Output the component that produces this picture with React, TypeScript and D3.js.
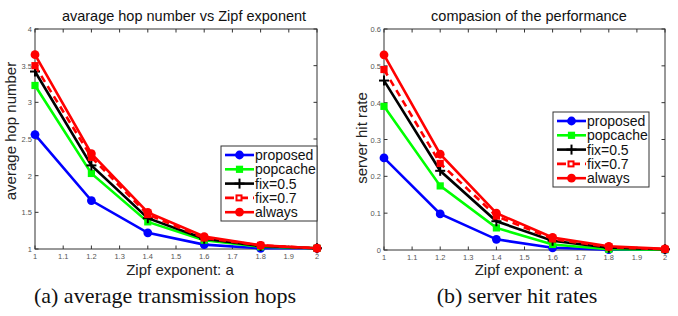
import * as d3 from 'd3';

const xVals = [1, 1.2, 1.4, 1.6, 1.8, 2];
const xTicks = [1, 1.1, 1.2, 1.3, 1.4, 1.5, 1.6, 1.7, 1.8, 1.9, 2];

const seriesNames = ['proposed', 'popcache', 'fix=0.5', 'fix=0.7', 'always'];

// average hop number
const hopProposed = [2.56, 1.66, 1.22, 1.06, 1.01, 1.01];
const hopPopcache = [3.23, 2.03, 1.37, 1.12, 1.03, 1.01];
const hopFix05 = [3.42, 2.14, 1.42, 1.14, 1.04, 1.01];
const hopFix07 = [3.5, 2.25, 1.47, 1.15, 1.05, 1.01];
const hopAlways = [3.65, 2.3, 1.5, 1.17, 1.05, 1.01];
const hopTicks = [1, 1.5, 2, 2.5, 3, 3.5, 4];

// server hit rate
const hitProposed = [0.25, 0.098, 0.029, 0.006, 0.001, 0.001];
const hitPopcache = [0.39, 0.174, 0.06, 0.015, 0.002, 0.001];
const hitFix05 = [0.46, 0.215, 0.078, 0.025, 0.006, 0.002];
const hitFix07 = [0.49, 0.235, 0.092, 0.03, 0.008, 0.002];
const hitAlways = [0.53, 0.26, 0.1, 0.034, 0.01, 0.003];
const hitTicks = [0, 0.1, 0.2, 0.3, 0.4, 0.5, 0.6];

const styles = [
  { color: '#0000ff', marker: 'circle', dash: '' },
  { color: '#00ff00', marker: 'square', dash: '' },
  { color: '#000000', marker: 'plus', dash: '' },
  { color: '#ff0000', marker: 'square', dash: '7,5' },
  { color: '#ff0000', marker: 'circle', dash: '' },
];

const SANS = 'Liberation Sans, Arial, sans-serif';

function Marker({ x, y, kind, color, size = 1 }: { x: number; y: number; kind: string; color: string; size?: number }) {
  if (kind === 'circle') return <circle cx={x} cy={y} r={4.4 * size} fill={color} />;
  if (kind === 'square') return <rect x={x - 3.6 * size} y={y - 3.6 * size} width={7.2 * size} height={7.2 * size} fill={color} />;
  return (
    <g stroke={color} strokeWidth={2}>
      <line x1={x - 5} x2={x + 5} y1={y} y2={y} />
      <line x1={x} x2={x} y1={y - 5} y2={y + 5} />
    </g>
  );
}

type PanelProps = {
  x0: number; x1: number; yTop: number; yBot: number;
  domain: [number, number]; yTicks: number[]; series: number[][];
  title: string; titleX: number; yLabel: string; yLabelX: number; yLabelY: number;
  legend: { x: number; y: number; w: number; h: number };
};

function Panel(p: PanelProps) {
  const xs = d3.scaleLinear([1, 2], [p.x0, p.x1]);
  const ys = d3.scaleLinear(p.domain, [p.yBot, p.yTop]);
  const line = d3.line<number>().x((_, i) => xs(xVals[i])).y(d => ys(d));
  const fmt = (v: number) => String(+v.toFixed(2));
  const tl = 3.5;
  const rowH = 14.3;
  return (
    <g fontFamily={SANS}>
      <text x={p.titleX} y={21} textAnchor="middle" fontSize={14.5} fill="#111">{p.title}</text>
      <text transform={`translate(${p.yLabelX},${p.yLabelY}) rotate(-90)`} textAnchor="middle" fontSize={15} fill="#222">{p.yLabel}</text>
      <text x={(p.x0 + p.x1) / 2 + 4} y={275} textAnchor="middle" fontSize={15} fill="#222">Zipf exponent: a</text>
      {xTicks.map(t => (
        <g key={'x' + t}>
          <line x1={xs(t)} x2={xs(t)} y1={p.yBot} y2={p.yBot - tl} stroke="#333" />
          <line x1={xs(t)} x2={xs(t)} y1={p.yTop} y2={p.yTop + tl} stroke="#333" />
          <text x={xs(t)} y={p.yBot + 9.5} textAnchor="middle" fontSize={7.5} fill="#555">{fmt(t)}</text>
        </g>
      ))}
      {p.yTicks.map(t => (
        <g key={'y' + t}>
          <line x1={p.x0} x2={p.x0 + tl} y1={ys(t)} y2={ys(t)} stroke="#333" />
          <line x1={p.x1} x2={p.x1 - tl} y1={ys(t)} y2={ys(t)} stroke="#333" />
          <text x={p.x0 - 3} y={ys(t) + 3} textAnchor="end" fontSize={7.5} fill="#555">{fmt(t)}</text>
        </g>
      ))}
      <rect x={p.x0} y={p.yTop} width={p.x1 - p.x0} height={p.yBot - p.yTop} fill="none" stroke="#333" strokeWidth={1} />
      {p.series.map((s, k) => (
        <g key={'s' + k}>
          <path d={line(s) ?? ''} fill="none" stroke={styles[k].color} strokeWidth={2.6} strokeDasharray={styles[k].dash} />
          {s.map((v, i) => (
            <Marker key={i} x={xs(xVals[i])} y={ys(v)} kind={styles[k].marker} color={styles[k].color} />
          ))}
        </g>
      ))}
      <rect x={p.legend.x} y={p.legend.y} width={p.legend.w} height={p.legend.h} fill="#fff" stroke="#333" />
      {seriesNames.map((n, k) => {
        const ry = p.legend.y + 9 + k * rowH;
        const lx = p.legend.x + 4;
        return (
          <g key={n}>
            <line x1={lx} x2={lx + 29} y1={ry} y2={ry} stroke={styles[k].color} strokeWidth={2.6}
              strokeDasharray={styles[k].dash ? '9,5' : ''} />
            {k === 3 ? (
              <rect x={lx + 11.5} y={ry - 2.5} width={5} height={5} fill="#fff" stroke="#ff0000" strokeWidth={2} />
            ) : (
              <Marker x={lx + 14.5} y={ry} kind={styles[k].marker} color={styles[k].color} />
            )}
            <text x={lx + 30} y={ry + 5} fontSize={14} fill="#111">{n}</text>
          </g>
        );
      })}
    </g>
  );
}

export default function App() {
  return (
    <div style={{ position: 'absolute', left: 0, top: 0 }}>
      <svg width={678} height={316} style={{ display: 'block', background: '#fff' }}>
        <Panel x0={35} x1={317} yTop={29} yBot={249} domain={[1, 4]} yTicks={hopTicks}
          series={[hopProposed, hopPopcache, hopFix05, hopFix07, hopAlways]}
          title="avarage hop number vs Zipf exponent" titleX={184} yLabel="average hop number" yLabelX={16} yLabelY={131}
          legend={{ x: 221, y: 146, w: 96, h: 75 }} />
        <Panel x0={384} x1={665} yTop={29} yBot={250} domain={[0, 0.6]} yTicks={hitTicks}
          series={[hitProposed, hitPopcache, hitFix05, hitFix07, hitAlways]}
          title="compasion of the performance" titleX={529} yLabel="server hit rate" yLabelX={367} yLabelY={138}
          legend={{ x: 553, y: 112, w: 96, h: 75 }} />
        <text x={165} y={303} textAnchor="middle" fontFamily="Liberation Serif, serif" fontSize={22} fill="#111">(a) average transmission hops</text>
        <text x={517} y={303} textAnchor="middle" fontFamily="Liberation Serif, serif" fontSize={22} fill="#111">(b) server hit rates</text>
      </svg>
    </div>
  );
}
